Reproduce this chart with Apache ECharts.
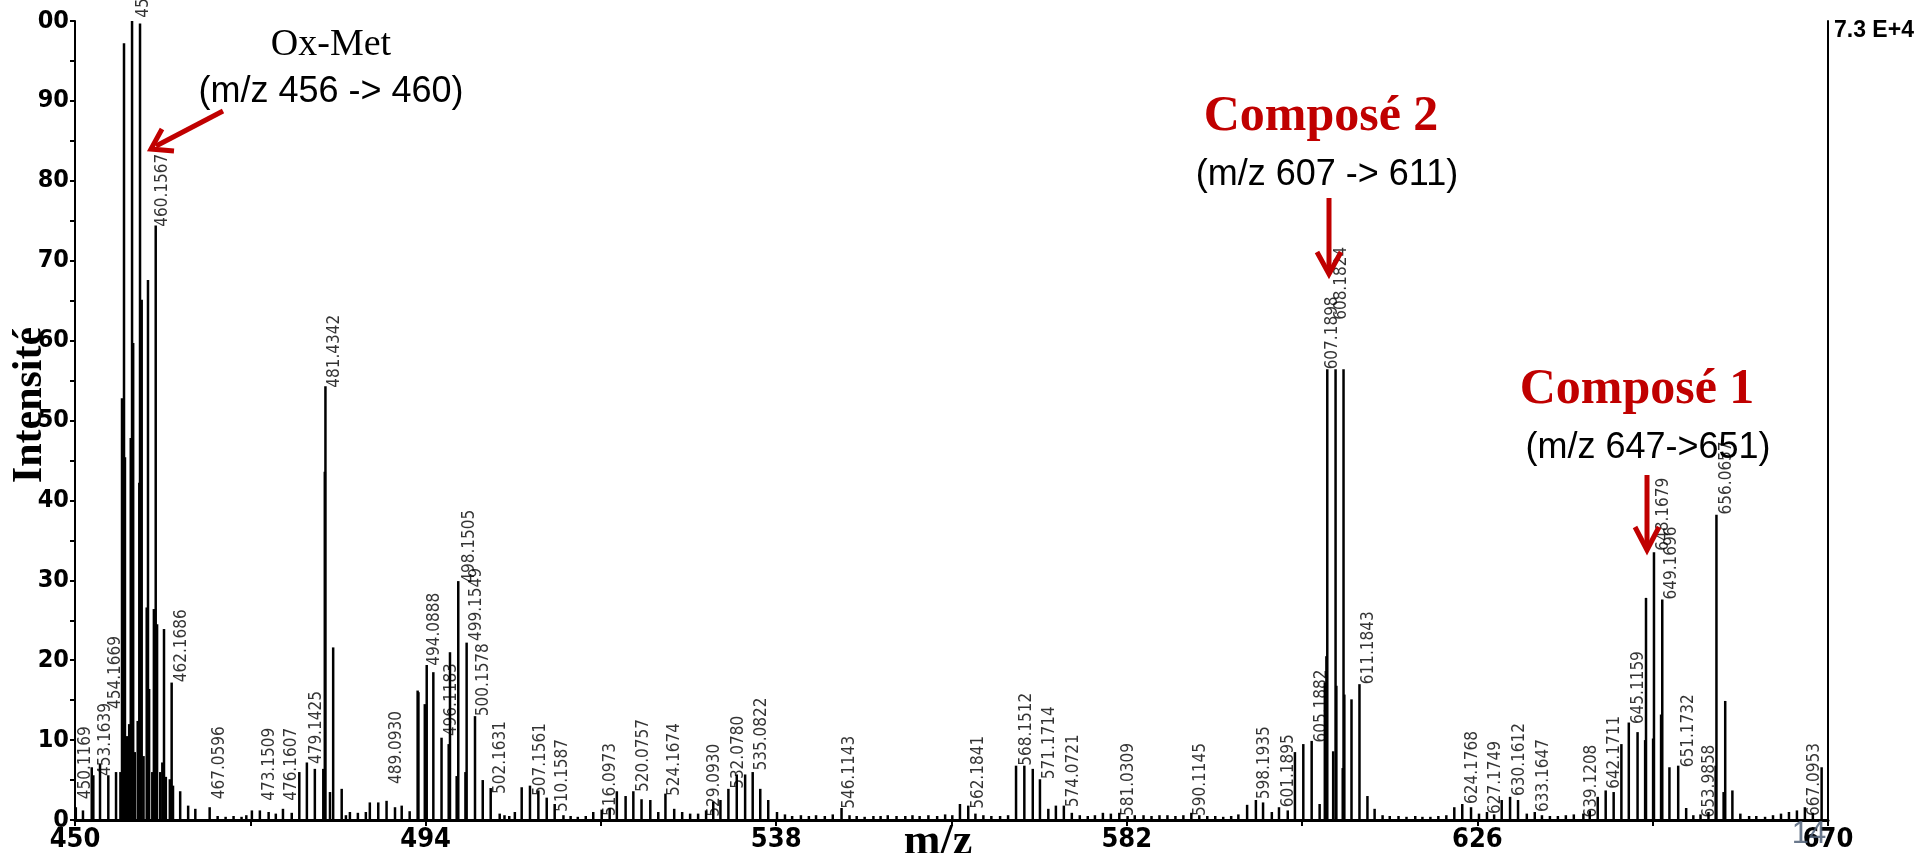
<!DOCTYPE html>
<html>
<head>
<meta charset="utf-8">
<title>Spectre</title>
<script src="https://cdn.jsdelivr.net/npm/echarts@6/dist/echarts.min.js"></script>
<style>
  html, body { margin: 0; padding: 0; background: #fff; }
  #main { width: 1932px; height: 853px; }
</style>
</head>
<body>
<div id="main"></div>
<script>
// axes
var xTicks = [450, 494, 538, 582, 626, 670];
var yTicks = [0, 10, 20, 30, 40, 50, 60, 70, 80, 90, 100];

// peaks (m/z, relative intensity)
var peakMz = [
  450.1, 451.0, 452.1, 452.3, 453.14, 454.18, 455.15, 455.7, 455.9, 456.15, 456.27, 456.5, 456.8,
  457.0, 457.16, 457.3, 457.5, 457.87, 458.07, 458.16, 458.37, 458.6, 459.0, 459.16, 459.3, 459.7,
  459.9, 460.13, 460.3, 460.7, 460.96, 461.17, 461.4, 461.9, 462.13, 462.3, 463.2, 464.2, 465.1, 466.9,
  472.2, 473.2, 474.3, 475.2, 476.1, 477.2, 478.15, 479.1, 480.1, 481.16, 481.35, 481.43, 482.0, 482.4,
  483.47, 484.5, 485.5, 486.5, 487.0, 488.06, 489.1, 490.16, 491.0, 492.0, 493.0, 493.1, 493.9, 494.14,
  494.97, 496.0, 496.9, 497.06, 497.9, 498.1, 499.0, 499.15, 500.2, 501.17, 502.17, 503.3,
  505.2, 506.06, 507.1, 508.15, 509.2, 510.2, 515.04, 516.1, 517.1, 518.0, 519.1, 520.07, 521.1, 522.2,
  523.2, 524.1, 525.2, 526.2, 527.2, 528.2, 529.2, 530.1, 531.0, 532.0, 533.05, 534.1, 535.05, 536.0,
  537.0, 538.1, 546.2,
  561.06, 562.1, 563.0, 568.1, 569.14, 570.2, 571.1, 572.15, 573.1, 574.1, 575.1, 579.0, 581.06, 590.1,
  596.0, 597.1, 598.2, 599.1, 600.2, 601.1, 602.2, 603.1, 604.15, 605.2, 606.2, 606.85, 607.05, 607.16,
  607.9, 608.2, 608.3, 609.1, 609.2, 609.3, 610.2, 611.2, 612.2, 613.1,
  623.1, 624.1, 625.2, 627.2, 629.05, 630.1, 631.1, 632.2, 633.2, 639.3, 641.1, 642.1, 643.1, 644.07,
  645.0, 646.1, 647.05, 647.16, 648.05, 648.16, 649.05, 649.2, 650.1, 651.2, 652.2, 655.9, 656.0, 656.9,
  657.1, 658.0, 659.0, 665.1, 666.1, 667.1, 669.2
];
var peakInt = [
  1.6, 1.2, 6.6, 5.6, 7.0, 5.6, 6.0, 6.0, 52.8, 97.2, 45.4, 10.5, 12.0,
  47.8, 100, 59.7, 8.5, 12.4, 42.2, 99.7, 65.1, 8.0, 26.6, 67.6, 16.4, 6.0,
  26.4, 74.4, 24.5, 6.0, 7.2, 23.9, 5.4, 5.1, 17.2, 4.3, 3.6, 1.8, 1.4, 1.6,
  1.2, 1.2, 1.0, 0.8, 1.4, 0.9, 6.0, 7.2, 6.4, 6.4, 43.6, 54.3, 3.5, 21.6,
  3.9, 1.0, 0.9, 1.0, 2.2, 2.2, 2.4, 1.6, 1.8, 1.1, 16.2, 16.0, 14.5, 19.4,
  18.5, 10.3, 9.5, 21.0, 5.5, 29.9, 6.0, 22.2, 13.0, 5.0, 4.0, 0.8,
  1.0, 4.1, 4.3, 3.7, 2.8, 2.0, 1.0, 1.3, 1.5, 3.6, 3.0, 3.6, 2.6, 2.5,
  1.0, 3.3, 1.4, 1.0, 0.8, 0.8, 1.2, 2.3, 2.5, 3.9, 5.7, 5.7, 6.0, 3.9,
  2.5, 1.0, 1.5,
  2.0, 1.8, 0.8, 6.8, 6.8, 6.4, 5.1, 1.4, 1.8, 1.8, 0.9, 0.9, 0.9, 0.9,
  0.7, 1.9, 2.5, 2.2, 1.0, 1.6, 1.2, 8.5, 9.5, 9.9, 2.0, 17.2, 20.5, 56.4,
  8.6, 56.4, 16.8, 6.5, 56.4, 15.7, 15.1, 17.0, 3.0, 1.4,
  1.6, 2.0, 1.6, 1.0, 2.5, 2.9, 2.5, 0.8, 1.0, 0.8, 2.9, 3.7, 3.5, 9.5,
  12.2, 11.0, 10.0, 27.8, 10.2, 33.5, 13.2, 27.6, 6.6, 6.8, 1.5, 6.8, 38.2, 3.5,
  14.9, 3.7, 0.8, 1.0, 1.2, 1.6, 6.6
];

// small baseline bumps
var noiseMz = [
  467.9, 468.9, 469.9, 470.9, 471.5, 484.0, 503.9, 504.5, 511.3, 512.2, 513.1, 514.1,
  539.1, 540.0, 541.1, 542.1, 543.0, 544.1, 545.1, 547.2, 548.1, 549.1, 550.2, 551.1, 552.0,
  553.1, 554.2, 555.1, 556.0, 557.1, 558.2, 559.2, 560.1, 564.0, 565.0, 566.1, 567.1,
  576.1, 577.1, 578.0, 580.0, 582.1, 583.0, 584.1, 585.1, 586.1, 587.1, 588.1, 589.1,
  591.1, 592.1, 593.1, 594.1, 595.1, 614.1, 615.0, 616.1, 617.1, 618.2, 619.1, 620.1,
  621.1, 622.1, 626.2, 628.1, 634.1, 635.1, 636.1, 637.1, 638.1, 640.1, 653.1, 654.0,
  655.0, 660.1, 661.0, 662.1, 663.1, 664.1, 668.1
];
var noiseInt = [
  0.5, 0.4, 0.5, 0.4, 0.6, 0.6, 0.6, 0.5, 0.6, 0.5, 0.4, 0.5,
  0.7, 0.5, 0.6, 0.5, 0.6, 0.5, 0.7, 0.6, 0.5, 0.4, 0.5, 0.5, 0.6,
  0.5, 0.5, 0.6, 0.5, 0.6, 0.5, 0.7, 0.6, 0.6, 0.5, 0.5, 0.6,
  0.6, 0.5, 0.6, 0.8, 0.5, 0.6, 0.6, 0.5, 0.6, 0.6, 0.5, 0.6,
  0.6, 0.5, 0.5, 0.4, 0.5, 0.6, 0.5, 0.5, 0.4, 0.5, 0.4, 0.4,
  0.5, 0.6, 0.8, 0.7, 0.6, 0.5, 0.5, 0.6, 0.7, 1.2, 0.6, 0.7,
  1.0, 0.5, 0.5, 0.4, 0.6, 0.8, 0.9
];

// peak labels: where the printed label sits (m/z, intensity) and its text
var labelMz = [
  451.38, 453.89, 455.15, 458.57, 461.04, 463.39, 468.2, 474.47, 477.2, 480.33, 482.63, 490.37,
  495.18, 497.28, 499.49, 500.41, 501.24, 503.42, 508.48, 511.2, 517.27, 521.33, 525.3, 530.32,
  533.25, 536.18, 547.26, 563.37, 569.44, 572.37, 575.29, 582.2, 591.27, 599.35, 602.27, 606.4,
  607.8, 608.95, 612.3, 625.41, 628.3, 631.27, 634.28, 640.35, 643.27, 646.2, 649.33, 650.38,
  652.47, 655.1, 657.29, 668.37
];
var labelInt = [
  2.6, 5.5, 13.9, 100.4, 74.25, 17.25, 2.6, 2.4, 2.4, 7.0, 54.1, 4.5,
  19.3, 10.5, 29.7, 22.4, 13.0, 3.25, 3.0, 1.0, 0.5, 3.5, 3.0, 0.4,
  3.9, 6.2, 1.4, 1.4, 6.8, 5.1, 1.6, 0.5, 0.5, 2.6, 1.6, 9.7,
  56.4, 62.6, 17.0, 2.0, 0.75, 3.0, 1.0, 0.3, 3.9, 12.0, 33.7, 27.6,
  6.6, 0.3, 38.25, 0.5
];
var labelText = [
  '450.1169', '453.1639', '454.1669', '457.1613', '460.1567', '462.1686', '467.0596', '473.1509',
  '476.1607', '479.1425', '481.4342', '489.0930', '494.0888', '496.1183', '498.1505', '499.1549',
  '500.1578', '502.1631', '507.1561', '510.1587', '516.0973', '520.0757', '524.1674', '529.0930',
  '532.0780', '535.0822', '546.1143', '562.1841', '568.1512', '571.1714', '574.0721', '581.0309',
  '590.1145', '598.1935', '601.1895', '605.1882', '607.1898', '608.1824', '611.1843', '624.1768',
  '627.1749', '630.1612', '633.1647', '639.1208', '642.1711', '645.1159', '648.1679', '649.1696',
  '651.1732', '653.9858', '656.0657', '667.0953'
];

var narrow = '"Liberation Sans Narrow", "DejaVu Sans Condensed", "Arial Narrow", sans-serif';
var red = '#c00000';

var bars = [];
for (var i = 0; i < peakMz.length; i++) bars.push([peakMz[i], peakInt[i]]);
for (var j = 0; j < noiseMz.length; j++) bars.push([noiseMz[j], noiseInt[j]]);

var labels = [];
for (var k = 0; k < labelMz.length; k++) labels.push({ value: [labelMz[k], labelInt[k]], name: labelText[k] });

function arrow(pts, tip, arms) {
  return [
    { type: 'polyline', shape: { points: pts }, style: { stroke: red, lineWidth: 5, fill: null }, z: 50 },
    { type: 'polyline', shape: { points: [arms[0], tip, arms[1]] },
      style: { stroke: red, lineWidth: 5, fill: null, lineJoin: 'miter' }, z: 50 }
  ];
}

var myChart = echarts.init(document.getElementById('main'));
var option = {
  backgroundColor: '#fff',
  animation: false,
  grid: { left: 75, right: 104, top: 21, bottom: 32, containLabel: false },
  xAxis: {
    type: 'value', min: xTicks[0], max: xTicks[xTicks.length - 1], interval: 44,
    axisLine: { show: true, lineStyle: { color: '#000', width: 3 } },
    axisTick: { show: true, length: 6, lineStyle: { color: '#000', width: 2 } },
    minorTick: { show: true, splitNumber: 2, length: 6, lineStyle: { color: '#000', width: 2 } },
    splitLine: { show: false },
    axisLabel: { color: '#000', fontFamily: narrow, fontWeight: 'bold', fontSize: 27, margin: 6 }
  },
  yAxis: [{
    type: 'value', min: yTicks[0], max: yTicks[yTicks.length - 1], interval: 10,
    axisLine: { show: true, lineStyle: { color: '#000', width: 2 } },
    axisTick: { show: true, length: 5, lineStyle: { color: '#000', width: 2 } },
    minorTick: { show: true, splitNumber: 2, length: 5, lineStyle: { color: '#000', width: 2 } },
    splitLine: { show: false },
    axisLabel: {
      color: '#000', fontFamily: narrow, fontWeight: 'bold', fontSize: 25, margin: 6,
      formatter: function (v) { return v === 100 ? '00' : String(v); }
    }
  }, {
    type: 'value', position: 'right', min: 0, max: 100,
    axisLine: { show: true, lineStyle: { color: '#000', width: 2 } },
    axisTick: { show: false }, axisLabel: { show: false }, splitLine: { show: false }
  }],
  series: [{
    type: 'bar',
    data: bars,
    barWidth: 2.5,
    itemStyle: { color: '#000' },
    silent: true
  }, {
    type: 'scatter',
    data: labels,
    symbolSize: 0,
    silent: true,
    clip: false,
    label: {
      show: true, position: 'top', distance: 0, rotate: 90,
      align: 'left', verticalAlign: 'middle',
      formatter: function (p) { return p.name; },
      color: '#000', fontFamily: narrow, fontSize: 17
    }
  }],
  graphic: [
    { type: 'text', x: 30, y: 405, rotation: Math.PI / 2,
      style: { text: 'Intensité', fill: '#000', font: 'bold 42px "Liberation Serif", serif', textAlign: 'center', textVerticalAlign: 'middle' } },
    { type: 'text', x: 938, y: 843,
      style: { text: 'm/z', fill: '#000', font: 'bold 44px "Liberation Serif", serif', textAlign: 'center', textVerticalAlign: 'middle' } },
    { type: 'text', x: 331, y: 45,
      style: { text: 'Ox-Met', fill: '#000', font: '38px "Liberation Serif", serif', textAlign: 'center', textVerticalAlign: 'middle' } },
    { type: 'text', x: 331, y: 92,
      style: { text: '(m/z 456 -> 460)', fill: '#000', font: '36px "Liberation Sans", sans-serif', textAlign: 'center', textVerticalAlign: 'middle' } },
    { type: 'text', x: 1321, y: 117,
      style: { text: 'Composé 2', fill: red, font: 'bold 50px "Liberation Serif", serif', textAlign: 'center', textVerticalAlign: 'middle' } },
    { type: 'text', x: 1327, y: 175,
      style: { text: '(m/z 607 -> 611)', fill: '#000', font: '36px "Liberation Sans", sans-serif', textAlign: 'center', textVerticalAlign: 'middle' } },
    { type: 'text', x: 1637, y: 390,
      style: { text: 'Composé 1', fill: red, font: 'bold 50px "Liberation Serif", serif', textAlign: 'center', textVerticalAlign: 'middle' } },
    { type: 'text', x: 1648, y: 448,
      style: { text: '(m/z 647->651)', fill: '#000', font: '36px "Liberation Sans", sans-serif', textAlign: 'center', textVerticalAlign: 'middle' } },
    { type: 'text', x: 1834, y: 31,
      style: { text: '7.3 E+4', fill: '#000', font: 'bold 23px "Liberation Sans", sans-serif', textAlign: 'left', textVerticalAlign: 'middle' } },
    { type: 'text', x: 1809, y: 834, z: 60,
      style: { text: '14', fill: 'rgba(80,96,120,0.85)', font: '31px "Liberation Sans", sans-serif', textAlign: 'center', textVerticalAlign: 'middle' } }
  ].concat(
    arrow([[223, 111], [156, 146]], [151, 149], [[174, 151], [162, 129]]),
    arrow([[1329, 198], [1329, 270]], [1329, 274], [[1317, 252], [1341, 252]]),
    arrow([[1647, 475], [1647, 546]], [1647, 550], [[1635, 527], [1659, 527]])
  )
};
myChart.setOption(option);
</script>
</body>
</html>
